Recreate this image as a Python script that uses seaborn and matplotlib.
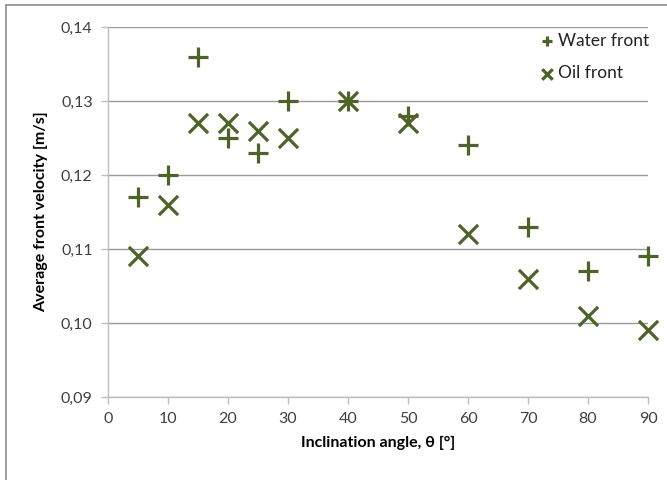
import matplotlib
matplotlib.use("Agg")
import matplotlib.pyplot as plt
from matplotlib.ticker import FuncFormatter, MultipleLocator
from matplotlib.lines import Line2D
import numpy as np
import pandas as pd
import seaborn as sns

# Inclination angles [deg]
angles = [5, 10, 15, 20, 25, 30, 40, 50, 60, 70, 80, 90]
# Average front velocities [m/s]
water_front = [0.117, 0.120, 0.136, 0.125, 0.123, 0.130, 0.130, 0.128, 0.124, 0.113, 0.107, 0.109]
oil_front = [0.109, 0.116, 0.127, 0.127, 0.126, 0.125, 0.130, 0.127, 0.112, 0.106, 0.101, 0.099]
series_names = ["Water front", "Oil front"]

x_label = "Inclination angle, θ [°]"
y_label = "Average front velocity [m/s]"

sns.set_theme(style="white")
plt.rcParams["font.family"] = ["Lato", "DejaVu Sans"]

df = pd.DataFrame({
    "angle": angles * 2,
    "velocity": water_front + oil_front,
    "series": [series_names[0]] * len(angles) + [series_names[1]] * len(angles),
})

green = "#4F6228"
fig = plt.figure(figsize=(6.67, 4.80), dpi=100)
ax = fig.add_axes([108 / 667, 1 - 397 / 480, (648 - 108) / 667, (397 - 27) / 480])

for name, marker in zip(series_names, ["+", "x"]):
    sub = df[df["series"] == name]
    sns.scatterplot(data=sub, x="angle", y="velocity", marker=marker, s=190,
                    color=green, linewidth=2.3, ax=ax, label=name, zorder=3,
                    clip_on=False)

ax.set_xlim(0, 90)
ax.set_ylim(0.09, 0.14)
ax.xaxis.set_major_locator(MultipleLocator(10))
ax.yaxis.set_major_locator(MultipleLocator(0.01))
ax.yaxis.set_major_formatter(FuncFormatter(lambda v, p: f"{v:.2f}".replace(".", ",")))
ax.xaxis.set_major_formatter(FuncFormatter(lambda v, p: f"{v:.0f}"))

ax.grid(axis="y", color="#9A9A9A", linewidth=1.0)
ax.grid(axis="x", visible=False)
ax.set_axisbelow(True)

for side in ["top", "right"]:
    ax.spines[side].set_visible(False)
for side in ["left", "bottom"]:
    ax.spines[side].set_color("#BDBDBD")
    ax.spines[side].set_linewidth(1.0)

ax.tick_params(axis="both", which="major", direction="out", length=5, width=1,
               color="#BDBDBD", labelsize=11.5, labelcolor="#404040", pad=6,
               bottom=True, left=True)

ax.set_xlabel(x_label, fontsize=11.5, fontweight="bold", color="black", labelpad=7)
ax.set_ylabel(y_label, fontsize=11.5, fontweight="bold", color="black", labelpad=9)

handles, labels = ax.get_legend_handles_labels()
if ax.legend_ is not None:
    ax.legend_.remove()
leg = fig.legend(handles, labels, loc="upper left",
                 bbox_to_anchor=(540 / 667, 1 - 33 / 480), frameon=False,
                 fontsize=12.5, handletextpad=0.25, labelspacing=0.95,
                 markerscale=0.55, borderaxespad=0.0, borderpad=0.0,
                 handlelength=0.8)
for t in leg.get_texts():
    t.set_color("#222222")

# Chart-area border on the top and left edges
fig.add_artist(Line2D([6 / 667, 1.0], [1 - 5 / 480, 1 - 5 / 480], transform=fig.transFigure,
                      color="#8C8C8C", linewidth=1.2))
fig.add_artist(Line2D([6 / 667, 6 / 667], [0.0, 1 - 5 / 480], transform=fig.transFigure,
                      color="#8C8C8C", linewidth=1.2))

fig.savefig("out.png", dpi=100)
